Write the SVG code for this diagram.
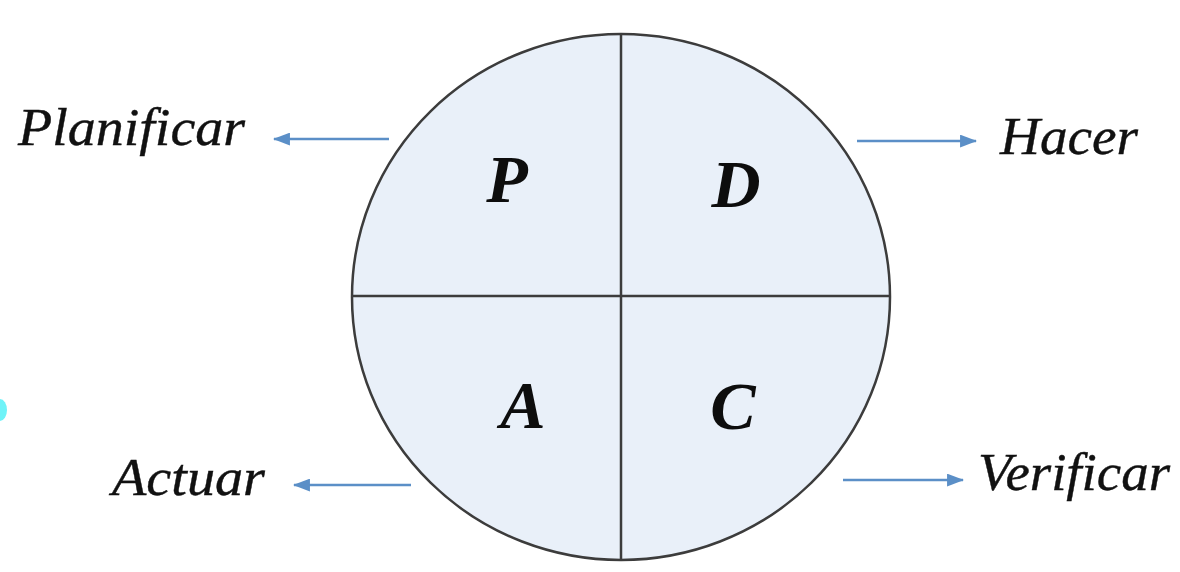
<svg xmlns="http://www.w3.org/2000/svg" width="1180" height="572" viewBox="0 0 1180 572">
<defs>
<style>
.lbl{font-family:"Liberation Serif","Times New Roman",serif;font-style:italic;font-size:52px;fill:#111;stroke:#111;stroke-width:0.4}
.big{font-family:"Liberation Serif","Times New Roman",serif;font-style:italic;font-weight:bold;font-size:68px;fill:#0d0d0d;text-anchor:middle}
.arr{stroke:#5b8fc7;stroke-width:2.5;fill:none;marker-end:url(#ah)}
.div{stroke:#3c3c3c;stroke-width:2.5}
</style>
<marker id="ah" viewBox="0 0 16 12" refX="15" refY="6" markerWidth="17" markerHeight="13" markerUnits="userSpaceOnUse" orient="auto">
<path d="M0,0 L16,6 L0,12 Z" fill="#5b8fc7"/>
</marker>
</defs>
<rect width="1180" height="572" fill="#ffffff"/>
<ellipse cx="0" cy="410" rx="7" ry="11" fill="#6ff3f8"/>
<g id="circle">
<ellipse cx="621" cy="297" rx="269" ry="263" fill="#e9f0f9" stroke="#3c3c3c" stroke-width="2.5"/>
<line class="div" x1="621" y1="34" x2="621" y2="560"/>
<line class="div" x1="352" y1="296" x2="890" y2="296"/>
</g>
<g id="P"><text class="big" x="507" y="202">P</text></g>
<g id="D"><text class="big" x="736" y="207">D</text></g>
<g id="A"><text class="big" x="523" y="428">A</text></g>
<g id="C"><text class="big" x="733" y="429">C</text></g>
<g id="connectors">
<line class="arr" x1="389" y1="139" x2="274" y2="139"/>
<line class="arr" x1="857" y1="141" x2="976" y2="141"/>
<line class="arr" x1="411" y1="485" x2="294" y2="485"/>
<line class="arr" x1="843" y1="480" x2="963" y2="480"/>
</g>
<g id="planificar"><text class="lbl" x="18" y="145" textLength="227" lengthAdjust="spacingAndGlyphs">Planificar</text></g>
<g id="hacer"><text class="lbl" x="1000" y="154" textLength="138" lengthAdjust="spacingAndGlyphs">Hacer</text></g>
<g id="actuar"><text class="lbl" x="112" y="495" textLength="153" lengthAdjust="spacingAndGlyphs">Actuar</text></g>
<g id="verificar"><text class="lbl" x="978" y="490" textLength="192" lengthAdjust="spacingAndGlyphs">Verificar</text></g>
</svg>
